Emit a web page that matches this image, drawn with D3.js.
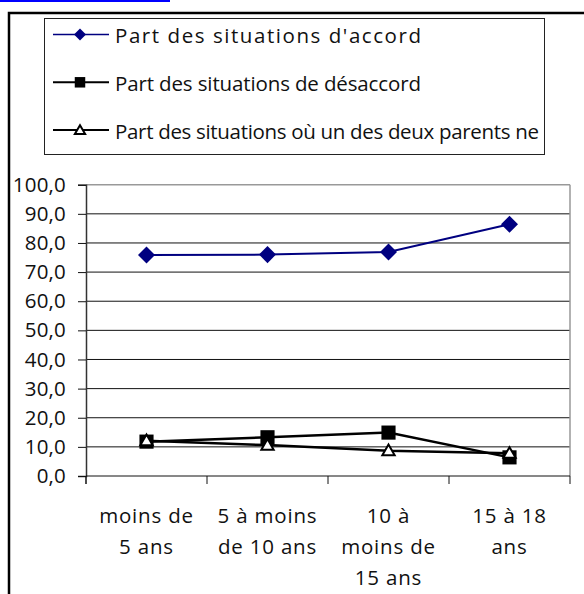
<!DOCTYPE html>
<html>
<head>
<meta charset="utf-8">
<script src="https://cdn.jsdelivr.net/npm/d3@7"></script>
<style>
  body { margin: 0; background: #fff; }
  svg { display: block; font-family: "Open Sans", sans-serif; }
</style>
</head>
<body>
<div class="d3"></div>
<script>
// chart values
const categories = ['moins de 5 ans', '5 à moins de 10 ans', '10 à moins de 15 ans', '15 à 18 ans'];
const categoryLines = [['moins de', '5 ans'], ['5 à moins', 'de 10 ans'], ['10 à', 'moins de', '15 ans'], ['15 à 18', 'ans']];
const accord = [75.9, 76.0, 76.9, 86.4];
const desaccord = [11.8, 13.3, 14.9, 6.4];
const unParentNe = [12.1, 10.6, 8.7, 7.8];
const yTicks = [0, 10, 20, 30, 40, 50, 60, 70, 80, 90, 100];
const seriesNames = [
  'Part des situations d\'accord',
  'Part des situations de désaccord',
  'Part des situations où un des deux parents ne'
];

(() => {
  let width = 584;
  let height = 594;

  let svg = d3.select('.d3')
    .append('svg')
    .attr('width', width)
    .attr('height', height);

  // cut-off link bar at the very top
  svg.append('rect')
    .attr('x', 0).attr('y', 0)
    .attr('width', 170).attr('height', 2)
    .attr('fill', '#0000ff');

  // outer frame (left and top only visible)
  svg.append('path')
    .attr('d', 'M9,594 V13 H584')
    .attr('fill', 'none')
    .attr('stroke', '#000')
    .attr('stroke-width', 2.5);

  let x = d3.scaleBand().domain(categories).range([86, 570]);
  let y = d3.scaleLinear().domain([0, 100]).range([476, 184.7]);

  let series = [
    { name: seriesNames[0], values: accord, color: '#000080', width: 2, symbol: 'diamond' },
    { name: seriesNames[1], values: desaccord, color: '#000', width: 2.5, symbol: 'square' },
    { name: seriesNames[2], values: unParentNe, color: '#000', width: 2.5, symbol: 'triangle' }
  ];

  function marker(sel, type, big) {
    if (type === 'diamond') {
      sel.append('path')
        .attr('d', d3.symbol(d3.symbolSquare, big ? 145 : 72)())
        .attr('transform', 'rotate(45)')
        .attr('fill', '#000080');
    } else if (type === 'square') {
      sel.append('path')
        .attr('d', d3.symbol(d3.symbolSquare, big ? 200 : 110)())
        .attr('fill', '#000');
    } else {
      sel.append('path')
        .attr('d', d3.symbol(d3.symbolTriangle, big ? 66 : 46)())
        .attr('transform', 'translate(0,1)')
        .attr('fill', '#fff')
        .attr('stroke', '#000')
        .attr('stroke-width', 2);
    }
  }

  // gridlines
  svg.append('g')
    .selectAll('line')
    .data(yTicks.filter(d => d > 0))
    .enter()
    .append('line')
    .attr('x1', 86).attr('x2', 570)
    .attr('y1', d => y(d)).attr('y2', d => y(d))
    .attr('stroke', d => d === 100 ? '#999' : '#111')
    .attr('stroke-width', d => d === 100 ? 1.5 : 1);

  // right border of plot area
  svg.append('line')
    .attr('x1', 570).attr('x2', 570)
    .attr('y1', y(100)).attr('y2', y(0))
    .attr('stroke', '#999')
    .attr('stroke-width', 1.5);

  // y axis
  let yAxis = svg.append('g')
    .attr('transform', 'translate(86,0)')
    .call(d3.axisLeft(y)
      .tickValues(yTicks)
      .tickSize(8)
      .tickPadding(12)
      .tickFormat(d => d.toFixed(1).replace('.', ',')));
  yAxis.select('.domain').attr('stroke', '#333').attr('stroke-width', 1.5);
  yAxis.selectAll('.tick line').attr('stroke', '#111');
  yAxis.selectAll('.tick text')
    .attr('font-family', '"Open Sans", sans-serif')
    .attr('font-size', 20.5)
    .attr('letter-spacing', 0.2)
    .attr('fill', '#111');

  // x axis line and boundary ticks
  svg.append('line')
    .attr('x1', 86).attr('x2', 570)
    .attr('y1', y(0)).attr('y2', y(0))
    .attr('stroke', '#111');
  svg.append('g')
    .selectAll('line')
    .data(categories.map(c => x(c)).concat([x.range()[1]]))
    .enter()
    .append('line')
    .attr('x1', d => d).attr('x2', d => d)
    .attr('y1', y(0)).attr('y2', y(0) + 8)
    .attr('stroke', '#111')
    .attr('stroke-width', (d, i) => i === 0 ? 1.5 : 1);

  // x labels
  let xl = svg.append('g')
    .selectAll('text')
    .data(categories)
    .enter()
    .append('text')
    .attr('text-anchor', 'middle')
    .attr('font-size', 20.5)
    .attr('letter-spacing', 0.8)
    .attr('fill', '#111');
  xl.each(function(c, i) {
    d3.select(this).selectAll('tspan')
      .data(categoryLines[i])
      .enter()
      .append('tspan')
      .attr('x', x(c) + x.bandwidth() / 2)
      .attr('y', (d, j) => 523 + j * 31)
      .text(d => d);
  });

  // lines and markers
  let line = d3.line()
    .x((d, i) => x(categories[i]) + x.bandwidth() / 2)
    .y(d => y(d));

  for (let s of series) {
    svg.append('path')
      .datum(s.values)
      .attr('fill', 'none')
      .attr('stroke', s.color)
      .attr('stroke-width', s.width)
      .attr('d', line);
  }
  for (let s of series) {
    svg.append('g')
      .selectAll('g')
      .data(s.values)
      .enter()
      .append('g')
      .attr('transform', (d, i) => `translate(${x(categories[i]) + x.bandwidth() / 2},${y(d)})`)
      .each(function() { marker(d3.select(this), s.symbol, true); });
  }

  // legend
  svg.append('rect')
    .attr('x', 44.5).attr('y', 18.5)
    .attr('width', 500).attr('height', 136)
    .attr('fill', '#fff')
    .attr('stroke', '#222')
    .attr('stroke-width', 1);

  let textLengths = [306, 306, 424];
  let legend = svg.append('g')
    .selectAll('g')
    .data(series)
    .enter()
    .append('g')
    .attr('transform', (d, i) => `translate(0,${34.5 + i * 47.8})`);
  legend.append('line')
    .attr('x1', 53).attr('x2', 109)
    .attr('stroke', d => d.color)
    .attr('stroke-width', d => d.width - 0.5);
  legend.append('g')
    .attr('transform', 'translate(80,0)')
    .each(function(d) { marker(d3.select(this), d.symbol, false); });
  legend.append('text')
    .attr('x', 115)
    .attr('y', 8.5)
    .attr('font-size', 20.5)
    .attr('fill', '#111')
    .attr('textLength', (d, i) => textLengths[i])
    .attr('lengthAdjust', 'spacing')
    .text(d => d.name);
})();
</script>
</body>
</html>
